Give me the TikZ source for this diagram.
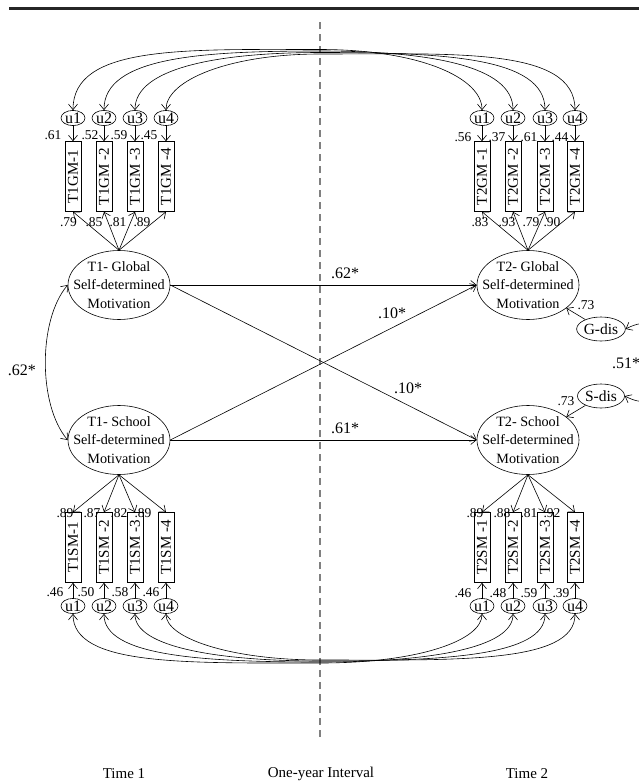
\documentclass[tikz,border=0pt]{standalone}
\usepackage{fontspec}
\setmainfont{Liberation Serif}
\usepackage{graphicx}
\usetikzlibrary{shapes.geometric,arrows.meta}
\begin{document}
\begin{tikzpicture}[x=1pt,y=1pt,
  >={Straight Barb[length=5.5pt,width=9pt]},
  conn/.style={line width=0.6pt},
  obs/.style={draw,line width=0.6pt,rectangle,minimum width=16pt,minimum height=70pt,inner sep=0pt,font=\fontsize{15}{15}\selectfont},
  err/.style={draw,line width=0.6pt,ellipse,minimum width=24pt,minimum height=15pt,inner sep=0pt,font=\fontsize{16}{16}\selectfont},
  lat/.style={draw,line width=0.6pt,ellipse,minimum width=102pt,minimum height=69pt,inner sep=0pt},
  lattxt/.style={align=center,inner sep=0pt,font=\fontsize{14.2}{18.5}\selectfont},
  dis/.style={draw,line width=0.6pt,ellipse,inner sep=0pt,minimum width=47pt,minimum height=24pt,font=\fontsize{15.5}{15.5}\selectfont},
  lab/.style={inner sep=0pt,font=\fontsize{13.5}{13.5}\selectfont},
  plab/.style={inner sep=0pt,font=\fontsize{16}{16}\selectfont},
  tlab/.style={inner sep=0pt,font=\fontsize{15}{15}\selectfont}
]
\path[use as bounding box, clip] (0,0) rectangle (639,-782);

% top rule and interval line
\draw[line width=3pt, black!85] (9,-8.5) -- (639,-8.5);
\draw[gray, line width=1.3pt, dash pattern=on 7pt off 5pt] (320,-22) -- (320,-738);

% latent variables
\node[lat] (G1) at (119,-285) {};
\node[lattxt] at (G1) {T1- Global\\Self-determined\\Motivation};
\node[lat] (S1) at (119,-440) {};
\node[lattxt] at (S1) {T1- School\\Self-determined\\Motivation};
\node[lat] (G2) at (528,-285) {};
\node[lattxt] at (G2) {T2- Global\\Self-determined\\Motivation};
\node[lat] (S2) at (528,-440) {};
\node[lattxt] at (S2) {T2- School\\Self-determined\\Motivation};

% disturbances
\node[dis] (Gd) at (601,-329) {G-dis};
\node[dis] (Sd) at (601,-396) {S-dis};

% top-left indicators
\foreach \i/\x/\t in {1/73/T1GM-1,2/104/T1GM -2,3/135/T1GM -3,4/166/T1GM -4}{
  \node[obs] (lb\i) at (\x,-176.5) {\rotatebox{90}{\t}};
  \node[err] (lu\i) at (\x,-118) {u\i};
  \draw[conn,->] (lu\i.south) -- (lb\i.north);
  \draw[conn,->] (G1.north) -- (lb\i.south);
}
% top-right indicators
\foreach \i/\x/\t in {1/482/T2GM -1,2/513/T2GM -2,3/545/T2GM -3,4/575/T2GM -4}{
  \node[obs] (rb\i) at (\x,-176.5) {\rotatebox{90}{\t}};
  \node[err] (ru\i) at (\x,-118) {u\i};
  \draw[conn,->] (ru\i.south) -- (rb\i.north);
  \draw[conn,->] (G2.north) -- (rb\i.south);
}
% bottom-left indicators
\foreach \i/\x/\t in {1/73/T1SM-1,2/104/T1SM -2,3/135/T1SM -3,4/166/T1SM -4}{
  \node[obs] (blb\i) at (\x,-547.5) {\rotatebox{90}{\t}};
  \node[err] (blu\i) at (\x,-606) {u\i};
  \draw[conn,->] (blu\i.north) -- (blb\i.south);
  \draw[conn,->] (S1.south) -- (blb\i.north);
}
% bottom-right indicators
\foreach \i/\x/\t in {1/482/T2SM -1,2/513/T2SM -2,3/545/T2SM -3,4/575/T2SM -4}{
  \node[obs] (brb\i) at (\x,-547.5) {\rotatebox{90}{\t}};
  \node[err] (bru\i) at (\x,-606) {u\i};
  \draw[conn,->] (bru\i.north) -- (brb\i.south);
  \draw[conn,->] (S2.south) -- (brb\i.north);
}

% correlated errors, top
\coordinate (tm1) at (320,-49.5);
\coordinate (tm2) at (320,-51);
\coordinate (tm3) at (320,-52.5);
\coordinate (tm4) at (320,-54);
\draw[conn,<->] (lu1.north) .. controls (73,-45) and (184,-49.5) .. (tm1) .. controls (420,-49.5) and (482,-78) .. (ru1.north);
\draw[conn,<->] (lu2.north) .. controls (104,-57) and (201,-51) .. (tm2) .. controls (430,-51) and (513,-66) .. (ru2.north);
\draw[conn,<->] (lu3.north) .. controls (135,-68) and (218,-52.5) .. (tm3) .. controls (444,-52.5) and (545,-57) .. (ru3.north);
\draw[conn,<->] (lu4.north) .. controls (166,-80) and (230,-54) .. (tm4) .. controls (455,-54) and (575,-47) .. (ru4.north);
% correlated errors, bottom
\coordinate (bm1) at (320,-663);
\coordinate (bm2) at (320,-662);
\coordinate (bm3) at (320,-661);
\coordinate (bm4) at (320,-660);
\draw[conn,<->] (blu1.south) .. controls (73,-666) and (184,-663) .. (bm1) .. controls (420,-663) and (482,-640) .. (bru1.south);
\draw[conn,<->] (blu2.south) .. controls (104,-656) and (201,-662) .. (bm2) .. controls (430,-662) and (513,-648) .. (bru2.south);
\draw[conn,<->] (blu3.south) .. controls (135,-647) and (218,-661) .. (bm3) .. controls (444,-661) and (545,-656) .. (bru3.south);
\draw[conn,<->] (blu4.south) .. controls (166,-638) and (230,-660) .. (bm4) .. controls (455,-660) and (575,-664) .. (bru4.south);

% structural paths
\draw[conn,->] (G1.east) -- (G2.west);
\draw[conn,->] (S1.east) -- (S2.west);
\draw[conn,->] (G1.east) -- (S2.west);
\draw[conn,->] (S1.east) -- (G2.west);
\draw[conn,<->] (G1.west) .. controls (38,-320) and (38,-405) .. (S1.west);
\draw[conn,->] (Gd) -- (G2);
\draw[conn,->] (Sd) -- (S2);
\draw[conn,<->] (Gd.east) .. controls (690,-295) and (690,-430) .. (Sd.east);

% path labels
\node[plab] (p1) at (345,-273) {.62*};
\node[plab] (p2) at (392,-313) {.10*};
\node[plab] (p3) at (408,-388) {.10*};
\node[plab] (p4) at (345,-428) {.61*};
\node[plab] (p5) at (22,-370) {.62*};
\node[lab] (p6) at (586,-305) {.73};
\node[lab] (p7) at (566,-401) {.73};
\node[plab] (p8) at (626,-363) {.51*};

% loading labels
\foreach \x/\v in {53/.61,90/.52,119/.59,149/.45}{\node[lab] at (\x,-135) {\v};}
\foreach \x/\v in {68.5/.79,94/.85,118/.81,142/.89}{\node[lab] at (\x,-222) {\v};}
\foreach \x/\v in {463/.56,497/.37,529/.61,560/.44}{\node[lab] at (\x,-137) {\v};}
\foreach \x/\v in {480/.83,507/.93,531/.79,552/.90}{\node[lab] at (\x,-222) {\v};}
\foreach \x/\v in {65/.89,92/.87,119/.82,143/.89}{\node[lab] at (\x,-513) {\v};}
\foreach \x/\v in {55/.46,86/.50,120/.58,151/.46}{\node[lab] at (\x,-592) {\v};}
\foreach \x/\v in {475/.89,502/.88,529/.81,552/.92}{\node[lab] at (\x,-513) {\v};}
\foreach \x/\v in {463/.46,498/.48,529/.59,561/.39}{\node[lab] at (\x,-593) {\v};}

% time labels
\node[tlab] (t1) at (124,-774) {Time 1};
\node[tlab] (t0) at (321,-774) {One-year Interval};
\node[tlab] (t2) at (527,-774) {Time 2};
\end{tikzpicture}
\end{document}
